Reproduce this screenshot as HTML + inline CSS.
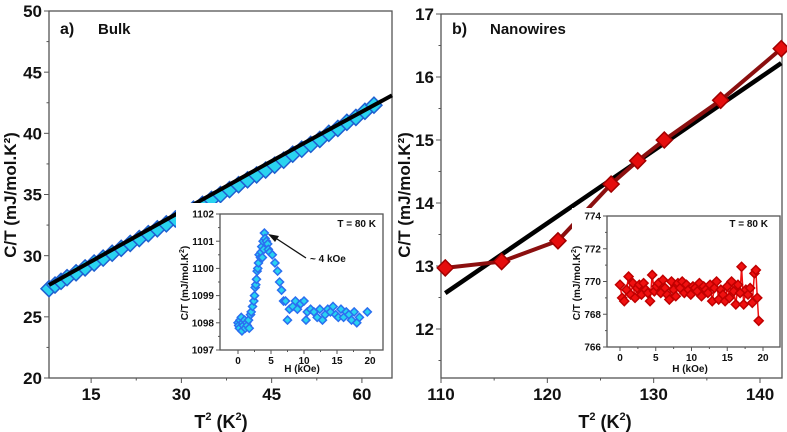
<!DOCTYPE html>
<html><head><meta charset="utf-8">
<style>
html,body{margin:0;padding:0;background:#fff;}
svg{display:block;font-family:"Liberation Sans",Arial,sans-serif;font-weight:bold;}
</style></head>
<body>
<svg id="c" width="787" height="432" viewBox="0 0 787 432" xmlns="http://www.w3.org/2000/svg"></svg>
<script>
// ---- Panel a (bulk) data ----
const bulkX = [8,9,10,11,12.5,14,15.5,17,18.5,20,21.5,23,24.5,26,27.5,29,30.5,32,33.5,35,36.5,38,39.5,41,42.5,44,45.5,47,48.5,50,51.5,53,54.5,56,57.5,59,60.5,62];
const bulkY = [27.3,27.6,27.9,28.2,28.6,29.0,29.4,29.8,30.2,30.6,31.0,31.4,31.8,32.2,32.6,33.0,33.4,33.8,34.2,34.6,35.0,35.4,35.8,36.2,36.6,37.0,37.4,37.8,38.3,38.7,39.1,39.5,40.0,40.4,40.9,41.3,41.8,42.3];
const bulkFitX = [8,20,35,50,65];
const bulkFitY = [27.6,30.9,35.0,39.1,43.1];
const bulkXTicks = [15,30,45,60];
const bulkYTicks = [20,25,30,35,40,45,50];
// ---- inset a ----
const insAH = [0,0.1,0.2,0.3,0.5,0.6,0.7,0.8,1.0,1.1,1.3,1.4,1.6,1.7,1.9,2.0,2.2,2.4,2.5,2.6,2.7,2.8,2.9,3.0,3.1,3.2,3.4,3.5,3.6,3.7,3.8,3.9,4.0,4.1,4.3,4.5,4.6,4.8,5.2,5.6,6.0,6.3,6.6,6.9,7.2,7.5,7.8,8.3,8.7,9.0,9.5,10.0,10.3,10.5,11.0,11.5,12.0,12.4,12.8,13.2,13.6,14.0,14.4,14.8,15.2,15.6,16.0,16.4,16.8,17.2,17.6,18.0,18.4,19.6];
const insAC = [1098.0,1097.9,1097.8,1098.1,1098.2,1097.7,1098.0,1097.9,1098.1,1097.8,1098.0,1097.9,1098.1,1097.8,1098.3,1098.4,1098.6,1098.8,1099.0,1099.3,1099.4,1099.6,1099.9,1100.0,1100.2,1100.5,1100.4,1100.6,1100.8,1100.4,1101.0,1100.7,1101.3,1101.1,1101.0,1100.9,1100.7,1100.6,1100.5,1100.2,1099.9,1099.5,1099.2,1098.8,1098.8,1098.1,1098.5,1098.6,1098.8,1098.5,1098.7,1098.8,1098.1,1098.4,1098.5,1098.4,1098.2,1098.5,1098.1,1098.3,1098.5,1098.4,1098.6,1098.3,1098.2,1098.5,1098.2,1098.4,1098.3,1098.1,1098.4,1098.0,1098.2,1098.4];
const insAXTicks = [0,5,10,15,20];
const insAYTicks = [1097,1098,1099,1100,1101,1102];
// ---- Panel b (nanowires) ----
const nanoX = [110.4,115.7,121,126,128.5,131,136.3,142];
const nanoY = [12.97,13.07,13.4,14.3,14.67,15.0,15.63,16.45];
const nanoFitX = [110.4,142];
const nanoFitY = [12.57,16.22];
const nanoXTicks = [110,120,130,140];
const nanoYTicks = [12,13,14,15,16,17];
// ---- inset b ----
const insBH = [0,0.3,0.6,0.9,1.2,1.5,1.8,2.1,2.4,2.7,3.0,3.3,3.6,3.9,4.2,4.5,4.8,5.1,5.4,5.7,6.0,6.3,6.6,6.9,7.2,7.5,7.8,8.1,8.4,8.7,9.0,9.3,9.6,9.9,10.2,10.5,10.8,11.1,11.4,11.7,12.0,12.3,12.6,12.9,13.2,13.5,13.8,14.1,14.4,14.7,15.0,15.3,15.6,15.9,16.2,16.5,16.8,17.0,17.3,17.6,17.9,18.2,18.5,18.8,19.0,19.2,19.4];
const insBC = [769.8,769.0,768.8,769.5,770.3,769.2,769.9,769.0,769.6,769.8,769.2,769.9,769.5,769.3,768.8,770.4,769.4,769.7,769.9,769.3,770.1,769.6,769.2,768.9,770.0,769.5,769.1,769.9,769.6,770.0,769.3,769.8,769.5,769.2,769.7,769.6,769.4,769.9,769.1,769.7,769.5,769.3,769.8,768.8,769.6,770.0,768.9,769.5,769.2,768.8,769.7,769.0,770.0,769.4,768.6,769.8,769.3,770.9,768.6,769.5,769.2,769.6,768.7,770.5,770.7,769.0,767.6];
const insBXTicks = [0,5,10,15,20];
const insBYTicks = [766,768,770,772,774];

const svg = document.getElementById('c');
const NS = 'http://www.w3.org/2000/svg';
function el(tag, attrs, parent){const e=document.createElementNS(NS,tag);for(const k in attrs)e.setAttribute(k,attrs[k]);(parent||svg).appendChild(e);return e;}
function lin(d0,d1,r0,r1){return v=>r0+(v-d0)*(r1-r0)/(d1-d0);}
function txt(x,y,s,size,anchor,parent,extra){const t=el('text',Object.assign({x:x,y:y,'font-size':size,'text-anchor':anchor||'middle',fill:'#111'},extra||{}),parent);t.textContent=s;return t;}
function diamond(cx,cy,r,fill,stroke,parent){return el('polygon',{points:`${cx},${cy-r} ${cx+r},${cy} ${cx},${cy+r} ${cx-r},${cy}`,fill:fill,stroke:stroke,'stroke-width':1.5},parent);}

function axes(g,box,xs,ys,xt,yt,xminor,yminor,fs,tl){
  el('rect',{x:box.l,y:box.t,width:box.r-box.l,height:box.b-box.t,fill:'none',stroke:'#555','stroke-width':1.3},g);
  xt.forEach(v=>{const x=xs(v);el('line',{x1:x,y1:box.b,x2:x,y2:box.b+tl,stroke:'#555'},g);const t=txt(x,box.b+tl+fs,String(v),fs,'middle',g);});
  xminor.forEach(v=>{const x=xs(v);el('line',{x1:x,y1:box.b,x2:x,y2:box.b+tl/2,stroke:'#555'},g);});
  yt.forEach(v=>{const y=ys(v);el('line',{x1:box.l,y1:y,x2:box.l-tl,y2:y,stroke:'#555'},g);const t=txt(box.l-tl-2,y+fs*0.36,String(v),fs,'end',g);});
  yminor.forEach(v=>{const y=ys(v);el('line',{x1:box.l,y1:y,x2:box.l-tl/2,y2:y,stroke:'#555'},g);});
}
const XTITLE='T<tspan font-size="11" dy="-8">2</tspan><tspan dy="8"> (K</tspan><tspan font-size="11" dy="-8">2</tspan><tspan dy="8">)</tspan>';

// ===== Panel a =====
const ga = el('g',{});  
const boxA={l:49,r:392,t:11,b:378};
const xa=lin(8,65,boxA.l,boxA.r), ya=lin(20,50,378,11);
axes(ga,boxA,xa,ya,bulkXTicks,bulkYTicks,[22.5,37.5,52.5],[22.5,27.5,32.5,37.5,42.5,47.5],17,5);
bulkX.forEach((v,i)=>{const d=diamond(xa(v),ya(bulkY[i]),8,'#29d3f0','#1f5fd0',ga);});
const fa=el('polyline',{points:bulkFitX.map((v,i)=>xa(v)+','+ya(bulkFitY[i])).join(' '),fill:'none',stroke:'#000','stroke-width':4},ga);

txt(60,34,'a)',16,'start',ga);
const ta=txt(98,34,'Bulk',15,'start',ga);
const yla=txt(0,0,'',17,'middle',ga,{transform:'translate(16,195) rotate(-90)'});yla.innerHTML='C/T (mJ/mol.K²)';

const xla=txt(221,428,'',18,'middle',ga);xla.innerHTML=XTITLE;


// inset a
const gia=el('g',{},ga);
el('rect',{x:176,y:203,width:215,height:174,fill:'#fff'},gia);
const bia={l:220,r:383,t:214,b:350};
const xia=lin(0,20,238,370), yia=lin(1097,1102,350,214);
axes(gia,bia,xia,yia,insAXTicks,insAYTicks,[2.5,7.5,12.5,17.5],[1097.5,1098.5,1099.5,1100.5,1101.5],10,4);
insAH.forEach((v,i)=>{const d=diamond(xia(v),yia(insAC[i]),4,'#29d3f0','#2a6ff0',gia);});
txt(376,227,'T = 80 K',10,'end',gia);
el('line',{x1:306,y1:258,x2:274,y2:237,stroke:'#111','stroke-width':1.3},gia);
el('polygon',{points:'268,234 279,236 275,242',fill:'#111'},gia);
txt(310,262,'~ 4 kOe',10,'start',gia);
const yia_t=txt(0,0,'',10,'middle',gia,{transform:'translate(188,283) rotate(-90)'});yia_t.innerHTML='C/T (mJ/mol.K<tspan font-size="7" dy="-4">2</tspan><tspan dy="4">)</tspan>';
txt(302,372,'H (kOe)',10,'middle',gia);

// ===== Panel b =====
const gb = el('g',{});  
const boxB={l:441,r:782,t:14,b:378};
const xb=lin(110,140,441,760), yb=lin(12,17,329,14);
axes(gb,boxB,xb,yb,nanoXTicks,nanoYTicks,[115,125,135],[11.5,12.5,13.5,14.5,15.5,16.5],17,5);
const fb=el('polyline',{points:nanoFitX.map((v,i)=>xb(v)+','+yb(nanoFitY[i])).join(' '),fill:'none',stroke:'#000','stroke-width':4.5},gb);

const lb=el('polyline',{points:nanoX.map((v,i)=>xb(v)+','+yb(nanoY[i])).join(' '),fill:'none',stroke:'#8b0f0f','stroke-width':4},gb);

nanoX.forEach((v,i)=>{const d=diamond(xb(v),yb(nanoY[i]),8,'#e50d0d','#a00000',gb);});
txt(452,34,'b)',16,'start',gb);
const tb=txt(490,34,'Nanowires',15,'start',gb);
const ylb=txt(0,0,'',17,'middle',gb,{transform:'translate(410,195) rotate(-90)'});ylb.innerHTML='C/T (mJ/mol.K²)';

const xlb=txt(605,428,'',18,'middle',gb);xlb.innerHTML=XTITLE;


// inset b
const gib=el('g',{},gb);
el('rect',{x:572,y:208,width:209,height:169,fill:'#fff'},gib);
const bib={l:607,r:780,t:216,b:347};
const xib=lin(0,20,620,763), yib=lin(766,774,347,216);
axes(gib,bib,xib,yib,insBXTicks,insBYTicks,[2.5,7.5,12.5,17.5],[767,769,771,773],10,4);
const n=Math.min(insBH.length,insBC.length);
const pl=el('polyline',{points:insBH.slice(0,n).map((v,i)=>xib(v)+','+yib(insBC[i])).join(' '),fill:'none',stroke:'#f01010','stroke-width':1.5},gib);

for(let i=0;i<n;i++){const d=diamond(xib(insBH[i]),yib(insBC[i]),4.5,'#f01010','#c00000',gib);}
txt(768,227,'T = 80  K',10,'end',gib);
const yib_t=txt(0,0,'',10,'middle',gib,{transform:'translate(580,283) rotate(-90)'});yib_t.innerHTML='C/T (mJ/mol.K<tspan font-size="7" dy="-4">2</tspan><tspan dy="4">)</tspan>';
txt(690,372,'H (kOe)',10,'middle',gib);
</script>
</body></html>
